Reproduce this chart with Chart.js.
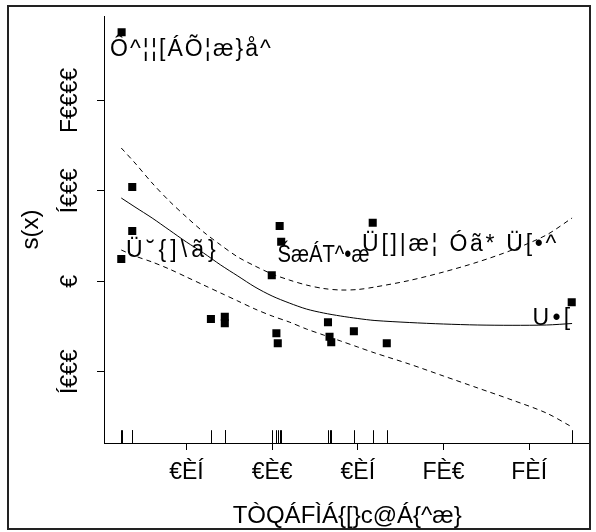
<!DOCTYPE html>
<html>
<head>
<meta charset="utf-8">
<script src="https://cdn.jsdelivr.net/npm/chart.js@4.4.1/dist/chart.umd.min.js"></script>
<style>
  html, body { margin: 0; padding: 0; background: #fff; }
  canvas { display: block; }
</style>
</head>
<body>
<canvas id="c" width="596" height="532"></canvas>
<script>
// ---- data ----
const xTickValues = [-0.5, 0, 0.5, 1, 1.5];
const xTickLabels = ["€ÈÍ", "€È€", "€ÈÍ", "FÈ€", "FÈÍ"];
const yTickValues = [10000, 5000, 0, -5000];
const yTickLabels = ["F€€€€", "Í€€€", "€", "Í€€€"];

const pointX = [-0.878, -0.880, -0.816, -0.816, -0.357, -0.276, -0.276, -0.002, 0.025, 0.033, 0.044, 0.053, 0.326, 0.335, 0.345, 0.477, 0.587, 0.669, 1.748];
const pointY = [13768, 1233, 5214, 2781, -2084, -1957, -2322, 332, -2875, -3428, 3058, 2190, -2267, -3063, -3373, -2765, 3240, -3428, -1161];

const curveX = [-0.88, -0.8, -0.7, -0.6, -0.5, -0.4, -0.3, -0.2, -0.1, 0, 0.1, 0.2, 0.3, 0.4, 0.5, 0.6, 0.8, 1.0, 1.2, 1.4, 1.6, 1.75];
const fitY   = [4606, 4108, 3500, 2836, 2173, 1565, 901, 293, -315, -813, -1200, -1532, -1753, -1919, -2057, -2167, -2278, -2361, -2416, -2433, -2416, -2333];
const upperY = [7370, 6541, 5435, 4440, 3555, 2726, 2007, 1344, 846, 404, 72, -205, -398, -481, -453, -315, 44, 514, 1067, 1731, 2560, 3500];
const lowerY = [1731, 1399, 1067, 680, 238, -205, -647, -1089, -1532, -1919, -2250, -2637, -2969, -3301, -3633, -3964, -4573, -5236, -5899, -6563, -7282, -8056];

const labelText = ["Ô^¦¦[ÁÕ¦æ}å^", "Ü˘{]\\ã}", "ŠæÁT^•æ", "Ü[]|æ¦ Óã* Ü[•^", "U•["];
const labelX = [-0.946, -0.853, 0.031, 0.525, 1.519];
const labelY = [12457, 1344, 1067, 1675, -2416];

const xTitle = "TÒQÁFÌÁ{[}c@Á{^æ}";
const yTitle = "s(x)";

// ---- style ----
const FONT = "'Liberation Sans', Arial, sans-serif";
const labelWidths = [163, 94, 92, 197, 41];

function drawFitted(ctx, text, x, y, targetW) {
  ctx.letterSpacing = '0px';
  const w = ctx.measureText(text).width;
  if (w < targetW) {
    ctx.letterSpacing = ((targetW - w) / text.length) + 'px';
    ctx.fillText(text, x, y);
    ctx.letterSpacing = '0px';
  } else {
    ctx.save();
    ctx.translate(x, y);
    ctx.scale(targetW / w, 1);
    ctx.fillText(text, 0, 0);
    ctx.restore();
  }
}

const extras = {
  id: 'extras',
  afterDraw(chart) {
    const ctx = chart.ctx;
    const xs = chart.scales.x, ys = chart.scales.y;
    const area = chart.chartArea;
    ctx.save();
    // rug
    ctx.strokeStyle = '#000';
    ctx.lineWidth = 1;
    const rugLen = (area.bottom - area.top) * 0.03;
    pointX.forEach(v => {
      const px = Math.round(xs.getPixelForValue(v)) + 0.5;
      ctx.beginPath();
      ctx.moveTo(px, area.bottom - rugLen);
      ctx.lineTo(px, area.bottom);
      ctx.stroke();
    });
    // y tick labels (rotated)
    ctx.fillStyle = '#000';
    ctx.font = "23px " + FONT;
    ctx.textAlign = 'center';
    ctx.textBaseline = 'alphabetic';
    yTickValues.forEach((v, i) => {
      const py = ys.getPixelForValue(v);
      ctx.save();
      ctx.translate(ys.right - 27, py);
      ctx.rotate(-Math.PI / 2);
      ctx.fillText(yTickLabels[i], 0, 0);
      ctx.restore();
    });
    // point labels
    ctx.textAlign = 'left';
    labelText.forEach((t, i) => {
      drawFitted(ctx, t, xs.getPixelForValue(labelX[i]), ys.getPixelForValue(labelY[i]), labelWidths[i]);
    });
    // outer frame
    ctx.strokeStyle = '#222';
    ctx.lineWidth = 2;
    ctx.strokeRect(8, 6, 582, 523);
    ctx.restore();
  }
};

const toXY = (xsArr, ysArr) => xsArr.map((v, i) => ({x: v, y: ysArr[i]}));

new Chart(document.getElementById('c'), {
  type: 'scatter',
  data: {
    datasets: [
      { data: toXY(pointX, pointY), pointStyle: 'rect', pointRadius: 5.7, pointHoverRadius: 5.7,
        backgroundColor: '#000', borderWidth: 0, showLine: false },
      { data: toXY(curveX, fitY), showLine: true, borderColor: '#000', borderWidth: 1, pointRadius: 0, tension: 0.3, fill: false },
      { data: toXY(curveX, upperY), showLine: true, borderColor: '#000', borderWidth: 1, borderDash: [5, 4], pointRadius: 0, tension: 0.3, fill: false },
      { data: toXY(curveX, lowerY), showLine: true, borderColor: '#000', borderWidth: 1, borderDash: [5, 4], pointRadius: 0, tension: 0.3, fill: false }
    ]
  },
  options: {
    responsive: false,
    animation: false,
    devicePixelRatio: 1,
    layout: { padding: { left: 0, right: 4, top: 16, bottom: 0 } },
    plugins: { legend: { display: false }, tooltip: { enabled: false } },
    scales: {
      x: {
        type: 'linear', min: -0.9808, max: 1.8564,
        afterBuildTicks: s => { s.ticks = xTickValues.map(v => ({ value: v })); },
        afterFit: s => { s.height = 89; },
        ticks: { color: '#000', font: { family: FONT, size: 23 }, padding: 9,
                 callback: (v) => { const i = xTickValues.indexOf(v); return i >= 0 ? xTickLabels[i] : ''; } },
        grid: { drawOnChartArea: false, drawTicks: true, tickLength: 7, color: '#000', lineWidth: 1 },
        border: { display: true, color: '#000', width: 1 },
        title: { display: true, text: xTitle, color: '#000', font: { family: FONT, size: 24 }, padding: { top: 0, bottom: 1 } }
      },
      y: {
        type: 'linear', min: -8940, max: 14669,
        afterBuildTicks: s => { s.ticks = yTickValues.map(v => ({ value: v })); },
        afterFit: s => { s.width = 104; },
        ticks: { display: false },
        grid: { drawOnChartArea: false, drawTicks: true, tickLength: 7, color: '#000', lineWidth: 1 },
        border: { display: true, color: '#000', width: 1 },
        title: { display: true, text: yTitle, color: '#000', font: { family: FONT, size: 24 }, padding: { top: 17, bottom: 0 } }
      }
    }
  },
  plugins: [extras]
});
</script>
</body>
</html>
